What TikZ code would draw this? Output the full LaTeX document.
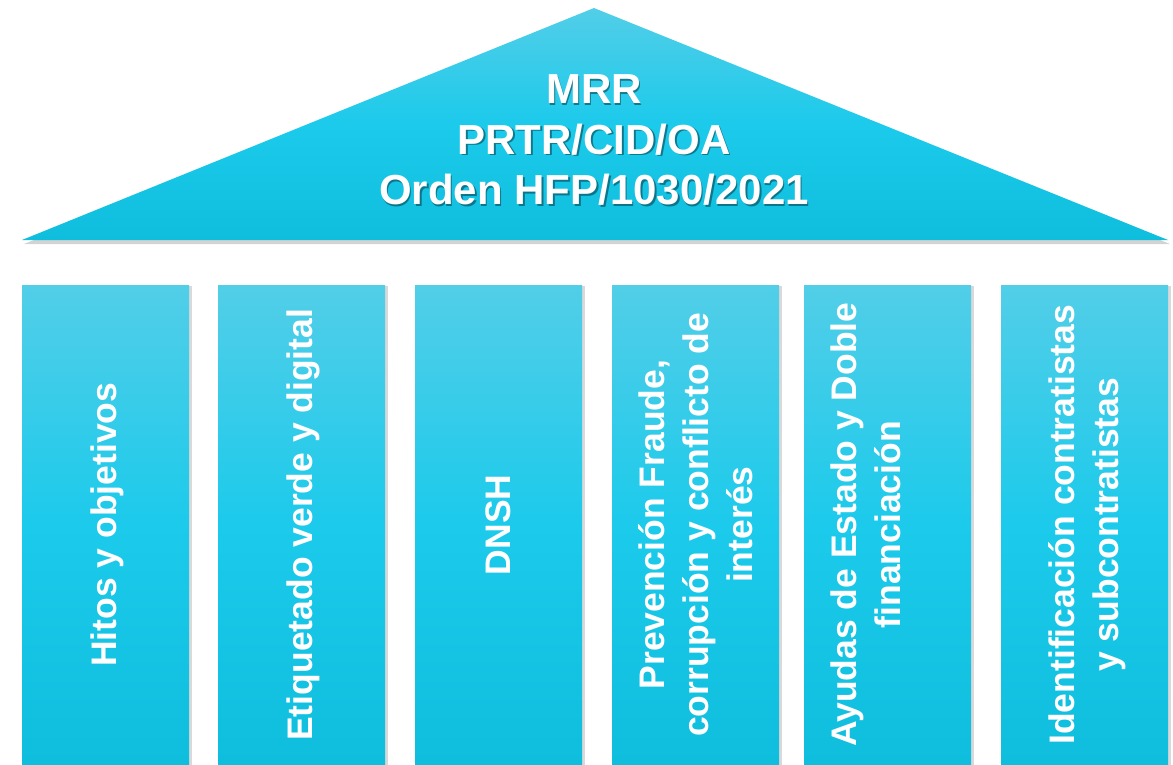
\documentclass[tikz,border=0pt]{standalone}
\usepackage{fontspec}
\setmainfont{Liberation Sans}
\usetikzlibrary{shadows}
\definecolor{cyanlight}{HTML}{52CEE8}
\definecolor{cyanmid}{HTML}{1CCAEB}
\definecolor{cyandark}{HTML}{0FBDDD}
\tikzset{
	pillar/.style={rectangle, inner sep=0pt, minimum width=167pt, minimum height=479pt, anchor=north west,
		top color=cyanlight, bottom color=cyandark, middle color=cyanmid,
		drop shadow={shadow xshift=3pt, shadow yshift=-1pt, opacity=0.3}},
	pillartext/.style={rotate=90, align=center, text=white, inner sep=0pt, font=\fontsize{35.5}{44}\selectfont\bfseries},
	rooftext/.style={align=center, text=white, inner sep=0pt, font=\fontsize{42}{50.5}\selectfont\bfseries},
	rooftextshadow/.style={rooftext, text=black!70!cyandark, opacity=0.55}
}
\begin{document}
\begin{tikzpicture}[x=1pt,y=-1pt]
			\useasboundingbox (0,0) rectangle (1173,764);
			% roof
			\coordinate (apex) at (594,8);
			\coordinate (eaveR) at (1168,240);
			\coordinate (eaveL) at (22,240);
			\path [top color=cyanlight, bottom color=cyandark, middle color=cyanmid,
				drop shadow={shadow xshift=2pt, shadow yshift=-4pt, opacity=0.35}]
				(apex) -- (eaveR) -- (eaveL) -- cycle;
			\node [rooftextshadow] (roofshadow) at (595.5,141.5) {MRR\\PRTR/CID/OA\\Orden HFP/1030/2021};
			\node [rooftext] (roof) at (594,140) {MRR\\PRTR/CID/OA\\Orden HFP/1030/2021};
			% pillars
			\node [pillar] (hitos) at (22,285) {};
			\node [pillar] (etiquetado) at (218,285) {};
			\node [pillar] (dnsh) at (415,285) {};
			\node [pillar] (fraude) at (612,285) {};
			\node [pillar] (ayudas) at (804,285) {};
			\node [pillar] (contratistas) at (1001,285) {};
			% pillar labels
			\node [pillartext] (hitos-label) at ([xshift=2pt]hitos.center) {Hitos y objetivos};
			\node [pillartext] (etiquetado-label) at ([xshift=2pt]etiquetado.center) {Etiquetado verde y digital};
			\node [pillartext] (dnsh-label) at (dnsh) {DNSH};
			\node [pillartext] (fraude-label) at (fraude) {Prevención Fraude,\\corrupción y conflicto de\\interés};
			\node [pillartext] (ayudas-label) at ([xshift=-22pt]ayudas.center) {Ayudas de Estado y Doble\\financiación};
			\node [pillartext] (contratistas-label) at ([xshift=2pt]contratistas.center) {Identificación contratistas\\y subcontratistas};
\end{tikzpicture}
\end{document}
